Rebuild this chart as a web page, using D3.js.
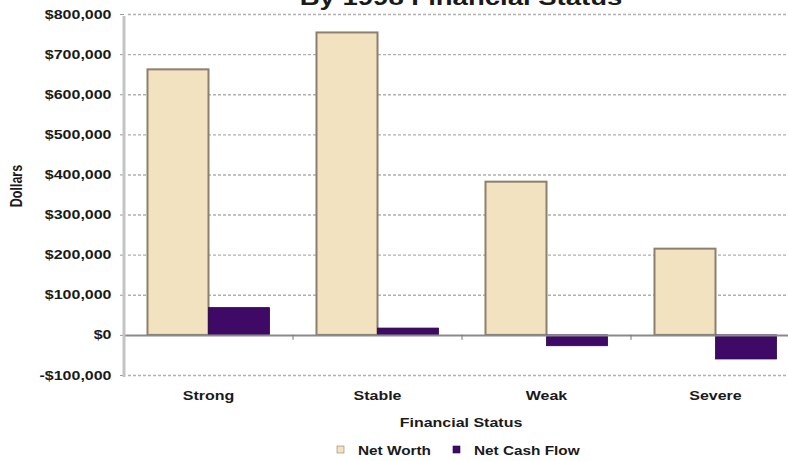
<!DOCTYPE html>
<html>
<head>
<meta charset="utf-8">
<script src="https://cdn.jsdelivr.net/npm/d3@7"></script>
<style>
  html, body { margin: 0; padding: 0; background: #fff; }
  svg { display: block; }
  text { font-family: "Liberation Sans", Arial, sans-serif; font-weight: bold; fill: #1a1a1a; }
</style>
</head>
<body>
<svg id="chart" width="788" height="461"></svg>
<script>
const categories = ["Strong", "Stable", "Weak", "Severe"];
const seriesNames = ["Net Worth", "Net Cash Flow"];
const netWorth = [662000, 754000, 382000, 215000];
const netCashFlow = [68000, 17000, -27000, -60000];
const tickValues = [-100000, 0, 100000, 200000, 300000, 400000, 500000, 600000, 700000, 800000];
const tickLabels = ["-$100,000", "$0", "$100,000", "$200,000", "$300,000", "$400,000", "$500,000", "$600,000", "$700,000", "$800,000"];
const titleText = "By 1998 Financial Status";
const xTitle = "Financial Status";
const yTitle = "Dollars";

const colors = { "Net Worth": "#f3e2bf", "Net Cash Flow": "#3e0a66" };
const strokes = { "Net Worth": "#8c7f6e", "Net Cash Flow": "#2a0548" };
const SX = 1.28; // horizontal stretch of text seen in the reference

const svg = d3.select("#chart");
const mLeft = 124, mRight = 800, mTop = 14, mBottom = 375;

const x0 = d3.scaleBand().domain(categories).range([mLeft, mRight]).padding(0);
const x1 = d3.scaleBand().domain(seriesNames).range([0, x0.bandwidth()]).paddingInner(0).paddingOuter(0.385);
const y = d3.scaleLinear().domain([-100000, 800000]).range([mBottom, mTop]);

const rows = categories.map((c, i) => ({ cat: c, vals: [
  { s: "Net Worth", v: netWorth[i] },
  { s: "Net Cash Flow", v: netCashFlow[i] }
]}));

function stretchText(sel, x, yv) {
  sel.attr("x", x / SX).attr("y", yv).attr("transform", `scale(${SX},1)`);
  return sel;
}

// title (partially clipped at top, as in reference)
stretchText(svg.append("text"), 461, 5)
  .attr("text-anchor", "middle").style("font-size", "21.5px").text(titleText);

// gridlines
const gridAxis = d3.axisLeft(y).tickValues(tickValues.filter(v => v !== 0))
  .tickSize(-(788 - mLeft + 4)).tickFormat("");
const gg = svg.append("g").attr("transform", `translate(${mLeft},0)`).call(gridAxis);
gg.select(".domain").remove();
gg.selectAll("line").attr("stroke", "#b0b0b0").attr("stroke-width", 1.4)
  .attr("stroke-dasharray", "3,2").attr("x1", 4);

// y axis labels
const yAxis = d3.axisLeft(y).tickValues(tickValues)
  .tickFormat((d, i) => tickLabels[i]).tickSize(4).tickPadding(8);
const ya = svg.append("g").attr("transform", `translate(${mLeft},0)`).call(yAxis);
ya.select(".domain").remove();
ya.selectAll("line").attr("stroke", "#999");
ya.selectAll("text").style("font-size", "12.5px").attr("fill", "#222")
  .attr("x", -12.5 / SX).attr("transform", `scale(${SX},1)`);

// bars
const groups = svg.append("g").selectAll("g").data(rows).join("g")
  .attr("transform", d => `translate(${x0(d.cat)},0)`);
groups.selectAll("rect").data(d => d.vals).join("rect")
  .attr("x", d => x1(d.s))
  .attr("width", x1.bandwidth())
  .attr("y", d => y(Math.max(0, d.v)))
  .attr("height", d => Math.abs(y(d.v) - y(0)))
  .attr("fill", d => colors[d.s])
  .attr("stroke", d => strokes[d.s])
  .attr("stroke-width", d => d.s === "Net Worth" ? 2 : 0.8);

// zero line & category ticks
const xAxis = d3.axisBottom(x0).tickSize(0).tickFormat("");
const xa = svg.append("g").attr("transform", `translate(0,${y(0)})`).call(xAxis);
xa.select(".domain").attr("stroke", "#8a8a8a").attr("stroke-width", 2);
svg.append("g").selectAll("line").data(categories.slice(1)).join("line")
  .attr("x1", d => x0(d)).attr("x2", d => x0(d))
  .attr("y1", y(0)).attr("y2", y(0) + 5)
  .attr("stroke", "#777").attr("stroke-width", 1);

// vertical axis line
svg.append("line").attr("x1", mLeft).attr("x2", mLeft).attr("y1", mTop + 2).attr("y2", mBottom + 2)
  .attr("stroke", "#c4c4c4").attr("stroke-width", 3);

// category labels
svg.append("g").selectAll("text").data(categories).join("text")
  .each(function(d) { stretchText(d3.select(this), x0(d) + x0.bandwidth() / 2, 400); })
  .attr("text-anchor", "middle").style("font-size", "12.5px")
  .text(d => d);

// axis titles
stretchText(svg.append("text"), 461, 427).attr("text-anchor", "middle")
  .style("font-size", "12.5px").text(xTitle);
svg.append("text").attr("transform", `translate(22,186) rotate(-90) scale(1,${SX})`)
  .attr("text-anchor", "middle").style("font-size", "12.5px").text(yTitle);

// legend
const legend = svg.append("g").attr("transform", "translate(337,450)");
const lx = [0, 116];
const lg = legend.selectAll("g").data(seriesNames).join("g")
  .attr("transform", (d, i) => `translate(${lx[i]},0)`);
lg.append("rect").attr("x", 0).attr("y", -4).attr("width", 7).attr("height", 7)
  .attr("fill", d => colors[d]).attr("stroke", d => strokes[d]).attr("stroke-width", 0.6);
lg.append("text").each(function() { stretchText(d3.select(this), 21, 4.5); })
  .style("font-size", "12px").text(d => d);
</script>
</body>
</html>
